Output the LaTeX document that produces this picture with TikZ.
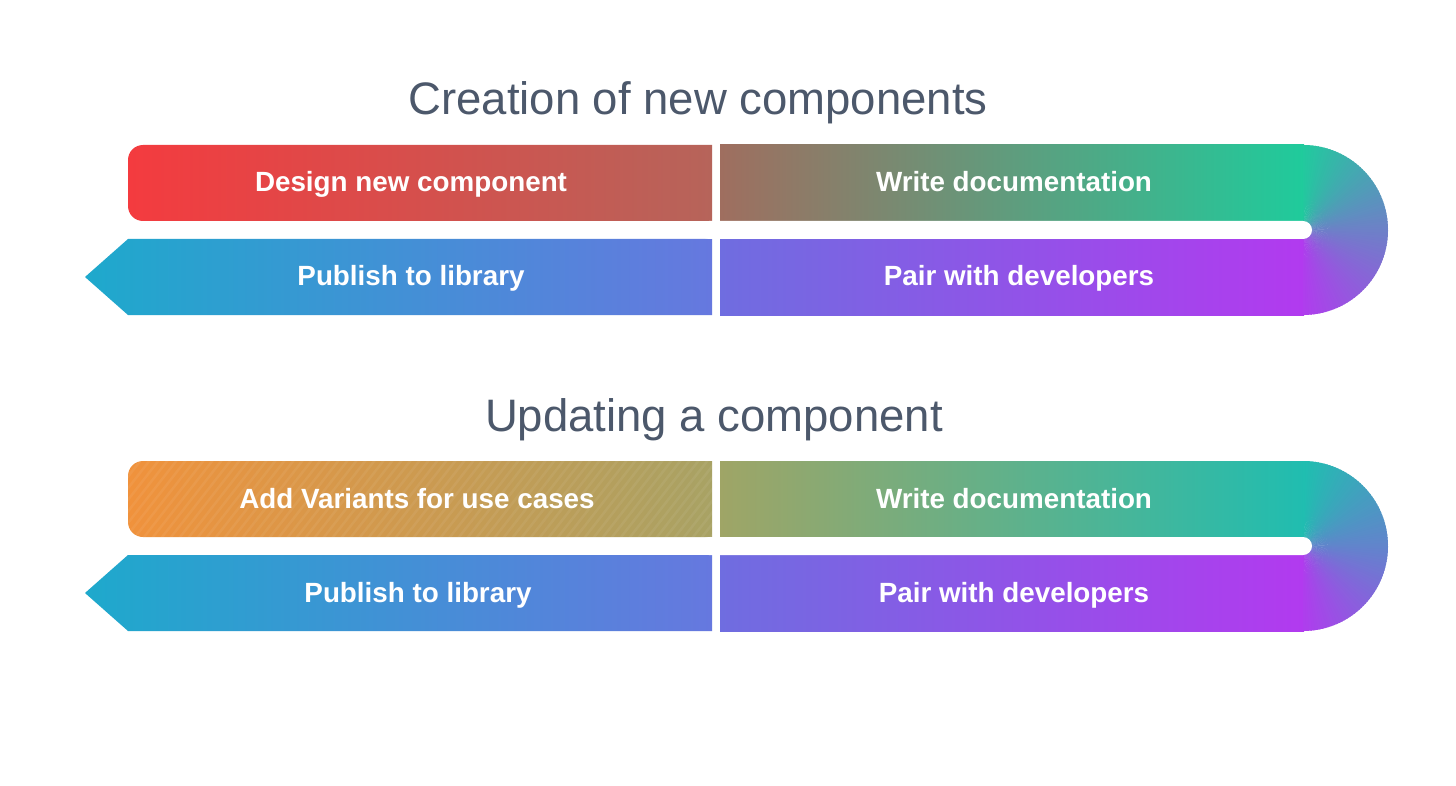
\documentclass[tikz,border=0pt]{standalone}
\usepackage{fontspec}
\setmainfont{Liberation Sans}
\definecolor{titlegray}{HTML}{4C586B}
% group A colours
\definecolor{aTLa}{HTML}{F43B3F}
\definecolor{aTLb}{HTML}{B6645A}
\definecolor{aTRa}{HTML}{9F6E5F}
\definecolor{aTRm}{HTML}{4FA786}
\definecolor{aTRb}{HTML}{1FCB9C}
\definecolor{aUa}{HTML}{22C99E}
\definecolor{aUm}{HTML}{6E80C8}
\definecolor{aUb}{HTML}{B03CEE}
% group B colours
\definecolor{bTLa}{HTML}{F0923C}
\definecolor{bTLb}{HTML}{A8A264}
\definecolor{bTRa}{HTML}{9FA566}
\definecolor{bTRm}{HTML}{56B48C}
\definecolor{bTRb}{HTML}{20BDB0}
\definecolor{bUa}{HTML}{20BEB0}
\definecolor{bUm}{HTML}{6284CC}
\definecolor{bUb}{HTML}{B03CEE}
% shared bottom colours
\definecolor{BLa}{HTML}{1EA9CC}
\definecolor{BLb}{HTML}{6678DF}
\definecolor{BRa}{HTML}{6F6DE0}
\definecolor{BRm}{HTML}{9650EA}
\definecolor{BRb}{HTML}{B23AEF}

\newcommand\lefttoppath{(712,145) -- (143,145) arc[start angle=-90, end angle=-180, radius=15] -- (128,206) arc[start angle=180, end angle=90, radius=15] -- (712,221) -- cycle}

% label x positions are set by \tlx \trx \blx \brx, extra decoration by \extradeco
% #1 colour prefix, #2 name suffix, #3 title, #4 title x, #5 top-left, #6 top-right, #7 bottom-left, #8 bottom-right
\newcommand\flowgroup[8]{%
  \node[ttl] (title#2) at (#4,115) {#3};
  \shade[left color=#1TLa, right color=#1TLb] \lefttoppath;
  \shade[left color=#1TRa, middle color=#1TRm, right color=#1TRb] (720,145) -- (1304,145) -- (1304,221) -- (720,221) -- cycle;
  \shade[left color=BLa, right color=BLb] (128,239) -- (712,239) -- (712,315) -- (128,315) -- (85,277) -- cycle;
  \shade[left color=BRa, middle color=BRm, right color=BRb] (720,239) -- (1304,239) -- (1304,315) -- (720,315) -- cycle;
  \foreach \i in {0,...,89}{%
    \pgfmathsetmacro\aa{-90+2*\i}%
    \pgfmathsetmacro\bb{min(\aa+3,90)}%
    \ifdim\aa pt<0pt
      \pgfmathsetmacro\pp{(\aa+90)/90*100}%
      \fill[color=#1Um!\pp!#1Ua] (1303,230) -- ++(\aa:85) arc[start angle=\aa, end angle=\bb, radius=85] -- cycle;
    \else
      \pgfmathsetmacro\pp{\aa/90*100}%
      \fill[color=#1Ub!\pp!#1Um] (1303,230) -- ++(\aa:85) arc[start angle=\aa, end angle=\bb, radius=85] -- cycle;
    \fi
  }
  \fill[white, rounded corners=9] (700,221) rectangle (1312,239);
  \extradeco
  \node[lbl] (tl#2) at (\tlx,192) {#5};
  \node[lbl] (tr#2) at (\trx,192) {#6};
  \node[lbl] (bl#2) at (\blx,286) {#7};
  \node[lbl] (br#2) at (\brx,286) {#8};
}

\begin{document}
\begin{tikzpicture}[x=1pt, y=-1pt,
  lbl/.style={text=white, font=\bfseries\fontsize{27.8}{32}\selectfont, anchor=base},
  ttl/.style={text=titlegray, font=\fontsize{45.5}{52}\selectfont, anchor=base}]
\useasboundingbox (0,0) rectangle (1456,786);
\fill[white] (0,0) rectangle (1456,786);

\def\tlx{411}\def\trx{1014}\def\blx{411}\def\brx{1019}
\def\extradeco{}
\flowgroup{a}{A}{Creation of new components}{698}{Design new component}{Write documentation}{Publish to library}{Pair with developers}

\begin{scope}[shift={(0,316)}]
  \def\tlx{417}\def\trx{1014}\def\blx{418}\def\brx{1014}
  \def\extradeco{%
    \begin{scope}
      \clip \lefttoppath;
      \foreach \k in {0,...,80}{
        \draw[white, opacity=0.06, line width=2.5pt] (60+\k*9,225) -- ++(70,-90);
      }
    \end{scope}}
  \flowgroup{b}{B}{Updating a component}{714}{Add Variants for use cases}{Write documentation}{Publish to library}{Pair with developers}
\end{scope}
\end{tikzpicture}
\end{document}
